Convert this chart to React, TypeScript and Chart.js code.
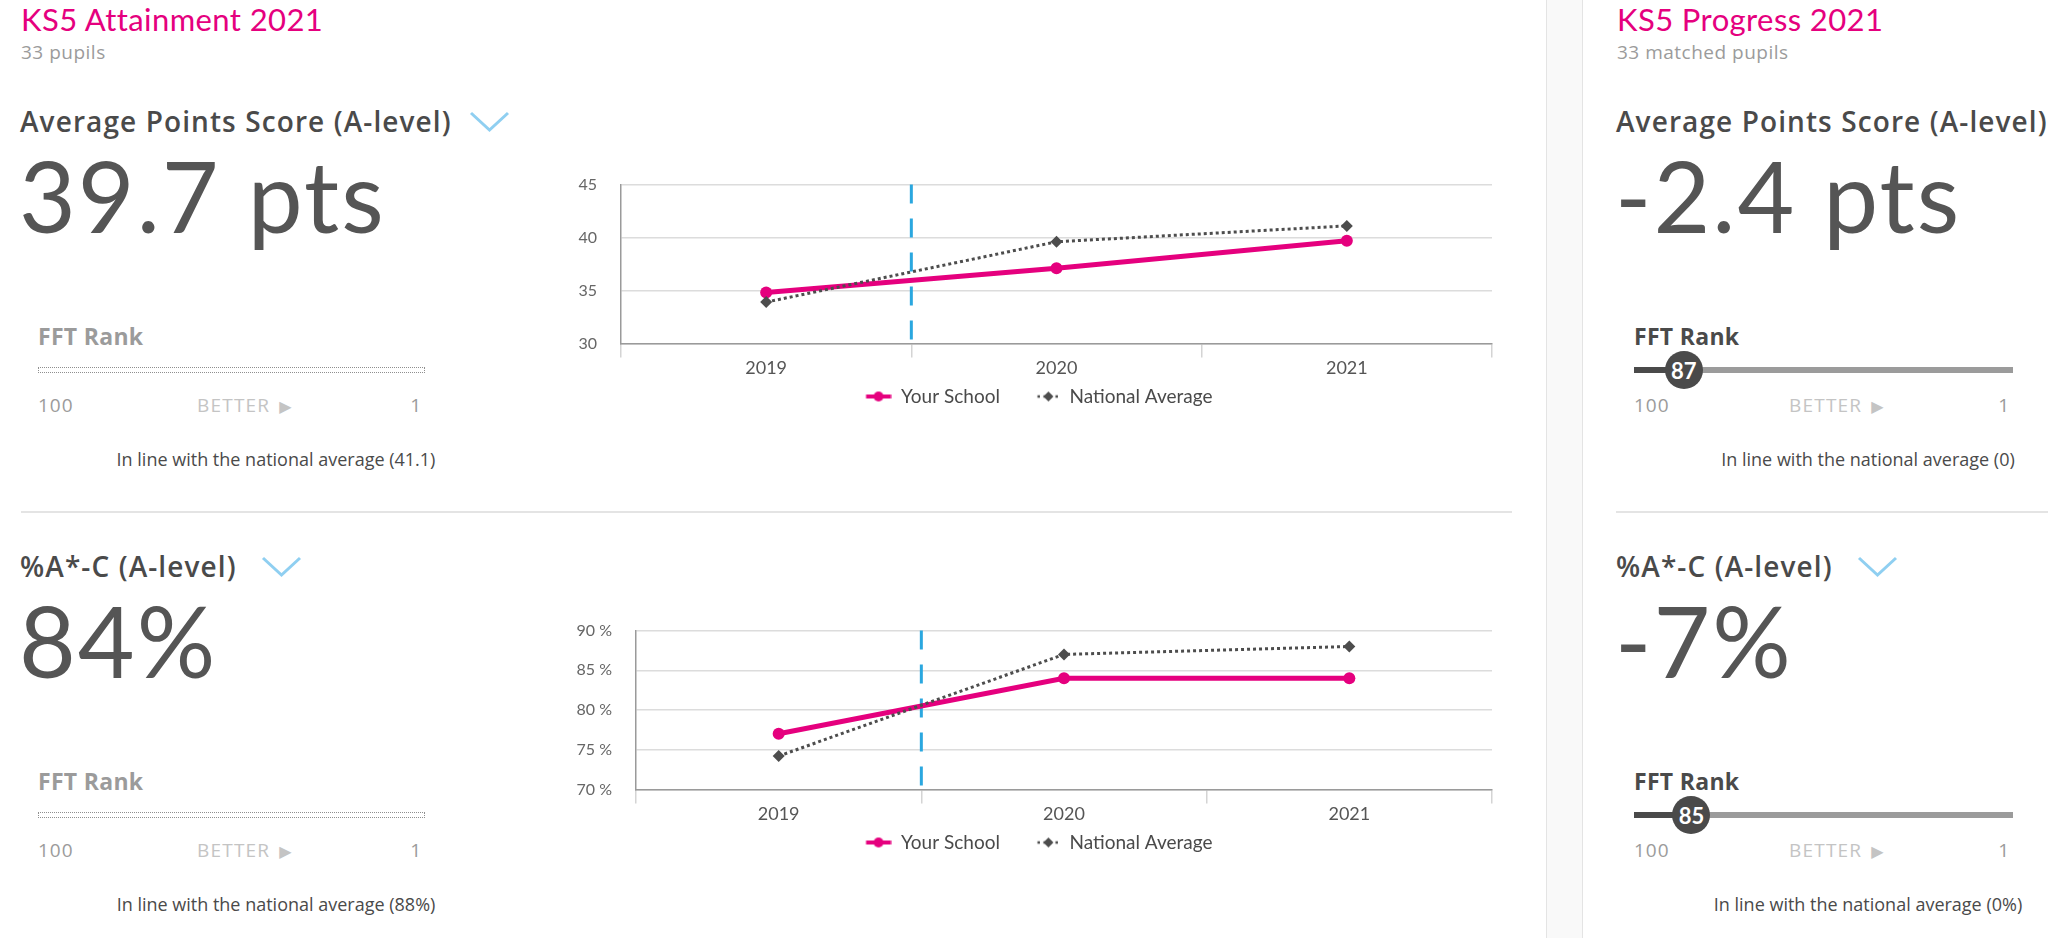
import React, { useEffect, useRef } from 'react';
import { Chart, registerables } from 'chart.js';

Chart.register(...registerables);

// ---------- data ----------
const YEARS = ['2019', '2020', '2021'];
const SERIES_NAMES = ['Your School', 'National Average'];
const APS_SCHOOL = [34.8, 37.1, 39.7];
const APS_NATIONAL = [33.9, 39.6, 41.1];
const APS_RANGE = [30, 45];
const AC_SCHOOL = [77, 84, 84];
const AC_NATIONAL = [74.2, 87, 88];
const AC_RANGE = [70, 90];
const Y_STEP = 5;
const DIVIDER_AFTER_INDEX = 0; // dashed divider between 2019 and 2020

const MEASURES = ['Average Points Score (A-level)', '%A*-C (A-level)'];
const ATTAINMENT_VALUES = ['39.7 pts', '84%'];
const ATTAINMENT_NOTES = [
  'In line with the national average (41.1)',
  'In line with the national average (88%)',
];
const PROGRESS_VALUES = ['-2.4 pts', '-7%'];
const PROGRESS_RANKS = [87, 85];
const PROGRESS_NOTES = [
  'In line with the national average (0)',
  'In line with the national average (0%)',
];

// ---------- style ----------
const FONT = 'Lato, "Noto Sans", sans-serif';
const UI_FONT = '"Open Sans", "Noto Sans", sans-serif';
const PINK = '#e5007e';
const DARK = '#4d4d4d';
const BLUE = '#2aa7df';
const TEXT = '#4a4a4a';
const GREY = '#9b9b9b';
const ROW_DY = 445;

function legendImage(kind: 'school' | 'national'): HTMLCanvasElement {
  const w = 52;
  const h = 14;
  const c = document.createElement('canvas');
  c.width = w;
  c.height = h;
  const ctx = c.getContext('2d')!;
  const cy = h / 2;
  if (kind === 'school') {
    const x0 = w - 25.5;
    const x1 = w - 0.5;
    ctx.strokeStyle = PINK;
    ctx.lineWidth = 4;
    ctx.beginPath();
    ctx.moveTo(x0, cy);
    ctx.lineTo(x1, cy);
    ctx.stroke();
    ctx.fillStyle = PINK;
    ctx.beginPath();
    ctx.arc((x0 + x1) / 2, cy, 5, 0, Math.PI * 2);
    ctx.fill();
  } else {
    const x0 = w - 22.5;
    const x1 = w - 0.5;
    ctx.strokeStyle = DARK;
    ctx.lineWidth = 2.5;
    ctx.setLineDash([2.5, 3.5]);
    ctx.beginPath();
    ctx.moveTo(x0, cy);
    ctx.lineTo(x1, cy);
    ctx.stroke();
    ctx.setLineDash([]);
    const cx = (x0 + x1) / 2;
    const r = 5;
    ctx.fillStyle = DARK;
    ctx.beginPath();
    ctx.moveTo(cx - r, cy);
    ctx.lineTo(cx, cy - r);
    ctx.lineTo(cx + r, cy);
    ctx.lineTo(cx, cy + r);
    ctx.closePath();
    ctx.fill();
  }
  return c;
}

const dividerPlugin = {
  id: 'divider',
  beforeDatasetsDraw(chart: any) {
    const xs = chart.scales.x;
    const x = xs.getPixelForValue(DIVIDER_AFTER_INDEX + 0.5);
    const { top, bottom } = chart.chartArea;
    const ctx = chart.ctx;
    ctx.save();
    ctx.strokeStyle = BLUE;
    ctx.lineWidth = 3;
    ctx.setLineDash([19, 15]);
    ctx.beginPath();
    ctx.moveTo(x, top);
    ctx.lineTo(x, bottom);
    ctx.stroke();
    ctx.restore();
  },
};

type ChartProps = {
  left: number;
  top: number;
  width: number;
  height: number;
  school: number[];
  national: number[];
  range: number[];
  yWidth: number;
  suffix: string;
};

function LineChart(p: ChartProps) {
  const ref = useRef<HTMLCanvasElement | null>(null);
  useEffect(() => {
    if (!ref.current) return;
    const imgs = [legendImage('school'), legendImage('national')];
    const chart = new Chart(ref.current, {
      type: 'line',
      data: {
        labels: YEARS,
        datasets: [
          {
            label: SERIES_NAMES[0],
            data: p.school,
            borderColor: PINK,
            backgroundColor: PINK,
            borderWidth: 5,
            pointRadius: 6,
            pointHoverRadius: 6,
            pointBorderWidth: 0,
            pointBackgroundColor: PINK,
            tension: 0,
            order: 1,
          },
          {
            label: SERIES_NAMES[1],
            data: p.national,
            borderColor: DARK,
            backgroundColor: DARK,
            borderWidth: 3,
            borderDash: [3, 3],
            pointStyle: 'rectRot',
            pointRadius: 6,
            pointHoverRadius: 6,
            pointBorderWidth: 0,
            pointBackgroundColor: DARK,
            tension: 0,
            order: 0,
          },
        ],
      },
      options: {
        animation: false,
        responsive: true,
        maintainAspectRatio: false,
        layout: { padding: { top: 0, left: 0, right: 0, bottom: 0 } },
        plugins: {
          tooltip: { enabled: false },
          legend: {
            position: 'bottom',
            labels: {
              usePointStyle: true,
              pointStyleWidth: 52,
              padding: 8,
              color: TEXT,
              font: { family: FONT, size: 19 },
              generateLabels: () =>
                SERIES_NAMES.map((name, i) => ({
                  text: name,
                  pointStyle: imgs[i] as any,
                  fillStyle: 'transparent',
                  strokeStyle: 'transparent',
                  lineWidth: 0,
                  hidden: false,
                  datasetIndex: i,
                  fontColor: TEXT,
                })),
            },
          },
        },
        scales: {
          x: {
            offset: true,
            grid: {
              offset: true,
              drawOnChartArea: false,
              drawTicks: true,
              tickLength: 14,
              color: '#d4d4d4',
              lineWidth: 1.5,
            },
            border: { display: true, color: '#9a9a9a', width: 1.5 },
            ticks: { color: '#555', padding: 0, font: { family: FONT, size: 18 } },
          },
          y: {
            min: p.range[0],
            max: p.range[1],
            ticks: {
              stepSize: Y_STEP,
              padding: 24,
              color: '#666',
              font: { family: FONT, size: 16 },
              callback: (v: any) => `${v}${p.suffix}`,
            },
            grid: { color: '#dcdcdc', lineWidth: 1.5, drawTicks: false },
            border: { display: true, color: '#9a9a9a', width: 1.5 },
            afterFit: (s: any) => {
              s.width = p.yWidth;
            },
          },
        },
      },
      plugins: [dividerPlugin],
    } as any);
    return () => chart.destroy();
  }, []);
  return (
    <div style={{ position: 'absolute', left: p.left, top: p.top, width: p.width, height: p.height }}>
      <canvas ref={ref} />
    </div>
  );
}

type TProps = {
  x: number;
  base: number;
  size: number;
  color: string;
  weight?: number;
  font?: string;
  children: React.ReactNode;
  style?: React.CSSProperties;
};

function T({ x, base, size, color, weight = 400, font = UI_FONT, children, style }: TProps) {
  return (
    <div
      style={{
        position: 'absolute',
        left: x,
        top: base - 0.887 * size,
        fontSize: size,
        lineHeight: `${size}px`,
        fontFamily: font,
        color,
        fontWeight: weight,
        whiteSpace: 'nowrap',
        ...style,
      }}
    >
      {children}
    </div>
  );
}

function Chevron({ x, y }: { x: number; y: number }) {
  return (
    <svg style={{ position: 'absolute', left: x, top: y }} width={42} height={24}>
      <polyline points="2,3 20.5,20 39,3" fill="none" stroke="#8fcff1" strokeWidth={3} />
    </svg>
  );
}

function RankScale({ x, base, w, dim }: { x: number; base: number; w: number; dim: boolean }) {
  return (
    <>
      <T x={x} base={base} size={19} color={GREY} style={{ letterSpacing: 1 }}>100</T>
      <T x={x + (dim ? 159 : 155)} base={base} size={19} color="#c4c4c4" style={{ letterSpacing: 1.2 }}>
        BETTER
        <span style={{ fontSize: 16, fontFamily: 'DejaVu Sans', marginLeft: 9, letterSpacing: 0 }}>▶</span>
      </T>
      <T x={x + w - 60} base={base} size={19} color={GREY} style={{ width: 56, textAlign: 'right' }}>1</T>
    </>
  );
}

function Slider({ x, y, w, rank }: { x: number; y: number; w: number; rank: number }) {
  const cx = x + ((100 - rank) / 99) * w;
  return (
    <>
      <div style={{ position: 'absolute', left: x, top: y - 3, width: w, height: 6, background: '#9b9b9b' }} />
      <div style={{ position: 'absolute', left: x, top: y - 3, width: cx - x, height: 6, background: '#4a4a4a' }} />
      <div
        style={{
          position: 'absolute',
          left: cx - 19,
          top: y - 19,
          width: 38,
          height: 38,
          borderRadius: '50%',
          background: '#4a4a4a',
          color: '#fff',
          fontFamily: FONT,
          fontWeight: 700,
          fontSize: 22,
          display: 'flex',
          alignItems: 'center',
          justifyContent: 'center',
        }}
      >
        {rank}
      </div>
    </>
  );
}

function Note({ cx, base, children }: { cx: number; base: number; children: React.ReactNode }) {
  return (
    <T x={cx - 300} base={base} size={18} color={TEXT} style={{ width: 600, textAlign: 'center' }}>
      {children}
    </T>
  );
}

const HEADING_STYLE: React.CSSProperties = { letterSpacing: 1.1 };

export default function App() {
  return (
    <div
      style={{
        position: 'absolute',
        left: 0,
        top: 0,
        width: 2048,
        height: 938,
        overflow: 'hidden',
        background: '#fff',
        fontFamily: FONT,
      }}
    >
      {/* right panel divider band */}
      <div
        style={{
          position: 'absolute',
          left: 1546,
          top: 0,
          width: 37,
          height: 938,
          background: '#f9f9f9',
          borderLeft: '1px solid #e4e4e4',
          borderRight: '1px solid #e4e4e4',
          boxSizing: 'border-box',
        }}
      />

      {/* Attainment column */}
      <T x={21} base={31.5} size={31} font={FONT} color={PINK} style={{ letterSpacing: 0.4 }}>
        KS5 Attainment 2021
      </T>
      <T x={21} base={60} size={19} color={GREY} style={{ letterSpacing: 0.5 }}>33 pupils</T>

      {[0, 1].map((i) => {
        const dy = i * ROW_DY;
        return (
          <React.Fragment key={'a' + i}>
            <T x={20} base={132 + dy} size={28} weight={600} color={TEXT} style={HEADING_STYLE}>
              {MEASURES[i]}
            </T>
            <Chevron x={i === 0 ? 469 : 261} y={110 + dy} />
            <T x={19} base={233 + dy} size={98} font={FONT} color="#555" style={{ letterSpacing: 2 }}>
              {ATTAINMENT_VALUES[i]}
            </T>
            <T x={38} base={345 + dy} size={23} weight={700} color={GREY} style={{ letterSpacing: 0.3 }}>
              FFT Rank
            </T>
            <div
              style={{
                position: 'absolute',
                left: 38,
                top: 367 + dy,
                width: 387,
                height: 6,
                border: '1px dotted #8f8f8f',
                boxSizing: 'border-box',
              }}
            />
            <RankScale x={38} base={413 + dy} w={387} dim />
            <Note cx={276} base={466 + dy}>{ATTAINMENT_NOTES[i]}</Note>
          </React.Fragment>
        );
      })}

      <div style={{ position: 'absolute', left: 21, top: 511, width: 1491, height: 2, background: '#e4e4e4' }} />

      <LineChart
        left={554}
        top={151}
        width={944}
        height={265}
        school={APS_SCHOOL}
        national={APS_NATIONAL}
        range={APS_RANGE}
        yWidth={67}
        suffix=""
      />
      <LineChart
        left={554}
        top={597}
        width={944}
        height={265}
        school={AC_SCHOOL}
        national={AC_NATIONAL}
        range={AC_RANGE}
        yWidth={82}
        suffix=" %"
      />

      {/* Progress column */}
      <T x={1617} base={31.5} size={31} font={FONT} color={PINK} style={{ letterSpacing: 0.4 }}>
        KS5 Progress 2021
      </T>
      <T x={1617} base={60} size={19} color={GREY} style={{ letterSpacing: 0.5 }}>33 matched pupils</T>

      {[0, 1].map((i) => {
        const dy = i * ROW_DY;
        return (
          <React.Fragment key={'p' + i}>
            <T x={1616} base={132 + dy} size={28} weight={600} color={TEXT} style={HEADING_STYLE}>
              {MEASURES[i]}
            </T>
            {i === 1 && <Chevron x={1857} y={110 + dy} />}
            <T x={1615} base={233 + dy} size={98} font={FONT} color="#555" style={{ letterSpacing: 2 }}>
              {PROGRESS_VALUES[i]}
            </T>
            <T x={1634} base={345 + dy} size={23} weight={700} color={TEXT} style={{ letterSpacing: 0.3 }}>
              FFT Rank
            </T>
            <Slider x={1634} y={370 + dy} w={379} rank={PROGRESS_RANKS[i]} />
            <RankScale x={1634} base={413 + dy} w={379} dim={false} />
            <Note cx={1868} base={466 + dy}>{PROGRESS_NOTES[i]}</Note>
          </React.Fragment>
        );
      })}

      <div style={{ position: 'absolute', left: 1616, top: 511, width: 432, height: 2, background: '#e4e4e4' }} />
    </div>
  );
}
